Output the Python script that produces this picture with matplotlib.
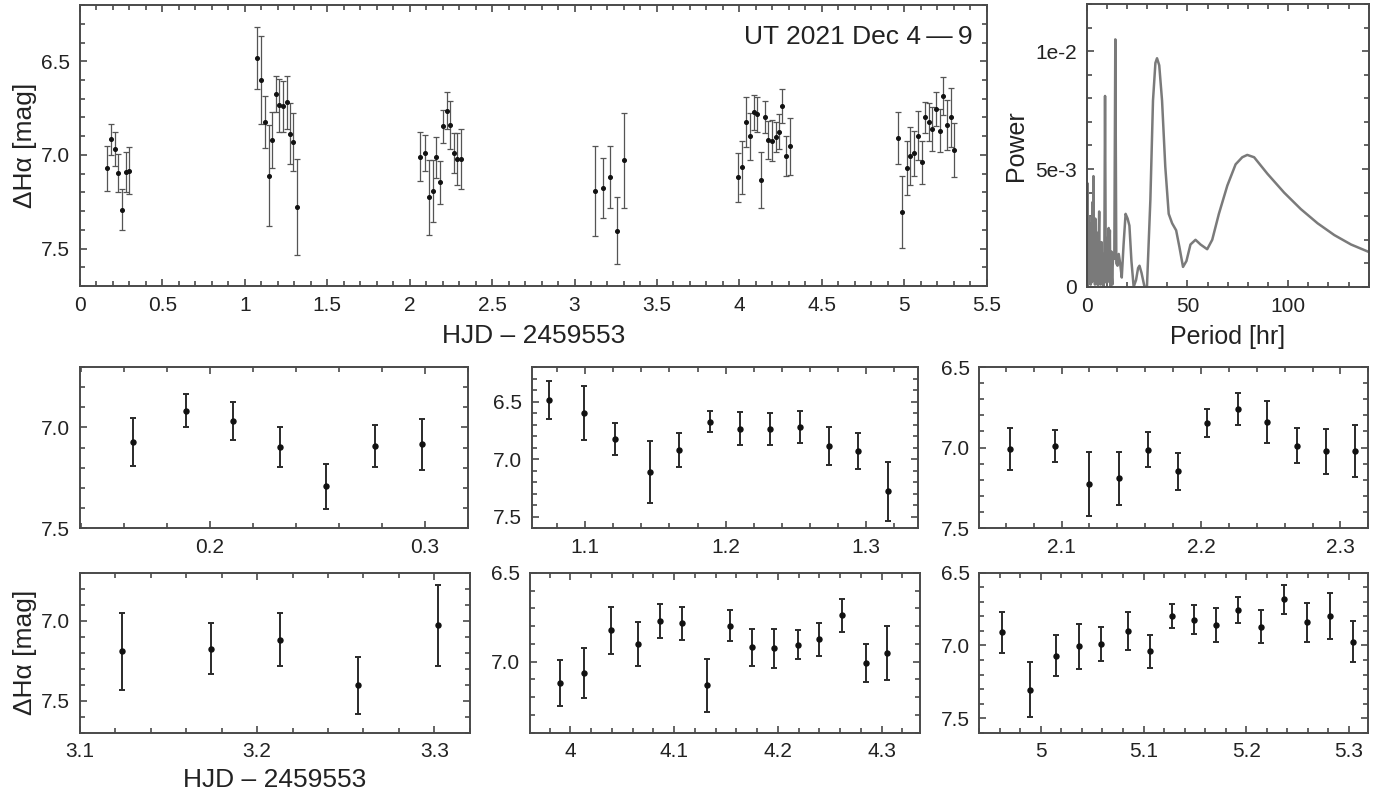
import numpy as np
import matplotlib
matplotlib.use("Agg")
import matplotlib.pyplot as plt
from matplotlib.ticker import MultipleLocator, FuncFormatter, FixedLocator

plt.rcParams['font.family'] = ['Liberation Sans', 'DejaVu Sans']

# light curve, one list per night (HJD - 2459553, delta H-alpha mag, error)
t0 = [0.1643, 0.1888, 0.2108, 0.2326, 0.2538, 0.2767, 0.2989]
m0 = [7.072, 6.917, 6.968, 7.097, 7.293, 7.092, 7.085]
e0 = [0.12, 0.083, 0.093, 0.10, 0.11, 0.105, 0.125]

t1 = [1.0743, 1.0995, 1.1214, 1.1464, 1.1671, 1.1888, 1.2101, 1.2318, 1.2531, 1.2736, 1.2945, 1.3155]
m1 = [6.484, 6.60, 6.825, 7.111, 6.921, 6.674, 6.735, 6.741, 6.72, 6.886, 6.93, 7.28]
e1 = [0.165, 0.235, 0.14, 0.27, 0.15, 0.095, 0.14, 0.137, 0.14, 0.165, 0.155, 0.257]

t2 = [2.063, 2.0952, 2.12, 2.1411, 2.1619, 2.1832, 2.2044, 2.2264, 2.2474, 2.2685, 2.2895, 2.3105]
m2 = [7.009, 6.989, 7.225, 7.192, 7.013, 7.146, 6.848, 6.763, 6.84, 6.989, 7.022, 7.02]
e2 = [0.13, 0.098, 0.2, 0.167, 0.11, 0.115, 0.088, 0.10, 0.13, 0.108, 0.14, 0.16]

t3 = [3.1235, 3.1742, 3.2127, 3.2568, 3.3019]
m3 = [7.192, 7.175, 7.119, 7.404, 7.029]
e3 = [0.24, 0.16, 0.165, 0.18, 0.255]

t4 = [3.9897, 4.0132, 4.0392, 4.0656, 4.0868, 4.108, 4.1318, 4.1537, 4.1749, 4.1965,
      4.2193, 4.2399, 4.2614, 4.2846, 4.3048]
m4 = [7.119, 7.066, 6.824, 6.90, 6.773, 6.784, 7.134, 6.797, 6.92, 6.924,
      6.905, 6.875, 6.74, 7.006, 6.953]
e4 = [0.13, 0.141, 0.133, 0.125, 0.095, 0.093, 0.148, 0.085, 0.103, 0.11,
      0.081, 0.092, 0.092, 0.106, 0.152]

t5 = [4.9617, 4.9893, 5.0146, 5.037, 5.0581, 5.0844, 5.1062, 5.1279, 5.149, 5.1701,
      5.1925, 5.2149, 5.2367, 5.2597, 5.2815, 5.3036]
m5 = [6.909, 7.305, 7.07, 7.006, 6.99, 6.898, 7.04, 6.799, 6.824, 6.861,
      6.755, 6.87, 6.684, 6.84, 6.799, 6.974]
e5 = [0.14, 0.19, 0.142, 0.155, 0.12, 0.13, 0.115, 0.083, 0.10, 0.117,
      0.09, 0.113, 0.102, 0.133, 0.158, 0.143]

# periodogram (period in hr, power)
period_hr = [0.2, 0.35, 0.5, 0.65, 0.8, 0.95, 1.1, 1.25, 1.4, 1.55,
             1.7, 1.85, 2.0, 2.15, 2.3, 2.45, 2.6, 2.75, 2.9, 3.05,
             3.2, 3.35, 3.5, 3.65, 3.8, 3.95, 4.1, 4.25, 4.4, 4.55,
             4.7, 4.85, 5.0, 5.15, 5.3, 5.45, 5.6, 5.75, 5.9, 6.05,
             6.2, 6.35, 6.5, 6.65, 6.8, 6.95, 7.1, 7.25, 7.4, 7.55,
             7.7, 7.85, 8.0, 8.15, 8.3,
             8.7, 9.1, 9.5, 9.7, 9.9, 10.1, 10.3, 10.5, 10.7, 10.9,
             11.1, 11.3, 11.5, 11.7, 11.9, 12.1, 12.3, 12.5, 12.7, 12.9,
             13.2, 13.7, 14.2, 14.7, 15.3, 15.9, 16.6, 17.4, 18.3, 19.3,
             20.3, 21.2, 22.2, 23.3, 24.5, 25.5, 26.2, 27.2, 28.7, 29.9,
             31.6, 32.9, 34.1, 34.9, 36.0, 37.4, 39.0, 40.7, 42.4, 44.4,
             46.0, 47.8, 49.5, 51.5, 54.0, 56.5, 59.8, 62.3, 65.6, 69.8,
             73.9, 77.2, 79.7, 83.1, 89.7, 98.0, 106.3, 114.6, 122.9, 131.2,
             140.7]
power = [0.0, 0.0044, 0.0003, 0.0022, 0.0001, 0.0026, 0.0005, 0.0030, 0.0002, 0.0018,
         0.0004, 0.0022, 0.0001, 0.0027, 0.0007, 0.0019, 0.0002, 0.0025, 0.0036, 0.0006,
         0.0024, 0.0047, 0.0003, 0.0021, 0.0008, 0.0017, 0.0001, 0.0029, 0.0005, 0.0016,
         0.0002, 0.0021, 0.0006, 0.0023, 0.0001, 0.0014, 0.0004, 0.0019, 0.0001, 0.0024,
         0.0032, 0.0006, 0.0013, 0.0002, 0.0018, 0.0001, 0.0012, 0.0003, 0.0019, 0.0002,
         0.0011, 0.0004, 0.0014, 0.0001, 0.0000,
         0.0004, 0.0081, 0.0002, 0.0016, 0.0003, 0.0014, 0.0002, 0.0021, 0.0006, 0.0025,
         0.0009, 0.0018, 0.0024, 0.0003, 0.0000, 0.0011, 0.0015, 0.0004, 0.0001, 0.0009,
         0.0014, 0.0012, 0.0105, 0.0010, 0.0009, 0.0014, 0.0010, 0.0004, 0.0018, 0.0031,
         0.0029, 0.0026, 0.0011, 0.0000, 0.0003, 0.0008, 0.0009, 0.0006, 0.0000, 0.0000,
         0.0037, 0.0079, 0.0095, 0.0097, 0.0094, 0.0079, 0.0051, 0.0031, 0.0027, 0.0024,
         0.0017, 0.00085, 0.0011, 0.0018, 0.0020, 0.0018, 0.0016, 0.0020, 0.0031, 0.0043,
         0.0052, 0.0055, 0.0056, 0.0055, 0.0048, 0.0040, 0.0033, 0.0027, 0.0022, 0.0018,
         0.00146]

nights = [(t0, m0, e0), (t1, m1, e1), (t2, m2, e2), (t3, m3, e3), (t4, m4, e4), (t5, m5, e5)]
xlims = [(0.1395, 0.32), (1.062, 1.337), (2.041, 2.32), (3.1, 3.32), (3.961, 4.337), (4.94, 5.319)]
ylims = [(7.5, 6.7), (7.6, 6.2), (7.5, 6.5), (7.7, 6.7), (7.4, 6.5), (7.6, 6.5)]

SPINE = '#4a4a4a'
TXT = '#222222'
xlab = 'HJD \u2013 2459553'
ylab = '\u0394H\u03b1 [mag]'
gfmt = FuncFormatter(lambda v, p: '%g' % round(v, 3))
f1 = FuncFormatter(lambda v, p: '%.1f' % v)


def style(ax, fs=15):
    for s in ax.spines.values():
        s.set_color(SPINE)
        s.set_linewidth(1.4)
    ax.tick_params(which='both', direction='in', top=True, right=True,
                   color=SPINE, width=1.2, labelsize=fs, labelcolor=TXT, pad=7)
    ax.tick_params(which='major', length=5)
    ax.tick_params(which='minor', length=3.5)


fig = plt.figure(figsize=(13.95, 7.98), dpi=100)

# all nights together
ax = fig.add_axes([0.0573, 0.6416, 0.650, 0.352])
for t, m, e in nights:
    ax.errorbar(t, m, yerr=e, fmt='o', ms=2.6, color='#111111', ecolor='#555555',
                elinewidth=0.9, capsize=2.0, capthick=0.9)
ax.set_xlim(0, 5.5)
ax.set_ylim(7.7, 6.2)
ax.xaxis.set_major_locator(MultipleLocator(0.5))
ax.xaxis.set_minor_locator(MultipleLocator(0.1))
ax.yaxis.set_major_locator(MultipleLocator(0.5))
ax.yaxis.set_minor_locator(MultipleLocator(0.1))
ax.xaxis.set_major_formatter(gfmt)
ax.yaxis.set_major_formatter(f1)
style(ax)
ax.set_xlabel(xlab, fontsize=19, color=TXT, labelpad=7)
ax.set_ylabel(ylab, fontsize=19, color=TXT, labelpad=3)
ax.text(0.985, 0.93, 'UT 2021 Dec 4\u2009\u2014\u20099', transform=ax.transAxes, ha='right', va='top',
        fontsize=19, color=TXT)

# periodogram
axp = fig.add_axes([0.779, 0.6404, 0.2022, 0.3546])
axp.plot(period_hr, power, color='#7a7a7a', lw=1.8)
axp.set_xlim(0, 140)
axp.set_ylim(0, 0.012)
axp.xaxis.set_major_locator(MultipleLocator(50))
axp.xaxis.set_minor_locator(MultipleLocator(10))
axp.yaxis.set_major_locator(FixedLocator([0, 0.005, 0.01]))
axp.yaxis.set_minor_locator(MultipleLocator(0.001))
axp.yaxis.set_major_formatter(FuncFormatter(lambda v, p: {0: '0', 1: '5e-3', 2: '1e-2'}.get(p, '')))
style(axp)
axp.set_xlabel('Period [hr]', fontsize=18, color=TXT, labelpad=7)
axp.set_ylabel('Power', fontsize=18, color=TXT, labelpad=5)

# one panel per night
boxes = [[0.0573, 0.3383, 0.278, 0.2018], [0.3811, 0.3383, 0.2771, 0.2018], [0.702, 0.3383, 0.2789, 0.2018],
         [0.0573, 0.0818, 0.2795, 0.2005], [0.3799, 0.0818, 0.2796, 0.2005], [0.702, 0.0818, 0.2789, 0.2005]]
for i, (t, m, e) in enumerate(nights):
    a = fig.add_axes(boxes[i])
    a.errorbar(t, m, yerr=e, fmt='o', ms=3.6, color='#111111', ecolor='#2a2a2a',
               elinewidth=1.4, capsize=2.4, capthick=1.4)
    a.set_xlim(*xlims[i])
    a.set_ylim(*ylims[i])
    a.xaxis.set_major_locator(MultipleLocator(0.1))
    a.xaxis.set_minor_locator(MultipleLocator(0.02))
    a.yaxis.set_major_locator(MultipleLocator(0.5))
    a.yaxis.set_minor_locator(MultipleLocator(0.1))
    a.xaxis.set_major_formatter(gfmt)
    a.yaxis.set_major_formatter(f1)
    style(a)
    if i == 3:
        a.set_xlabel(xlab, fontsize=19, color=TXT, labelpad=5)
        a.set_ylabel(ylab, fontsize=19, color=TXT, labelpad=3)

fig.savefig('out.png', dpi=100)
